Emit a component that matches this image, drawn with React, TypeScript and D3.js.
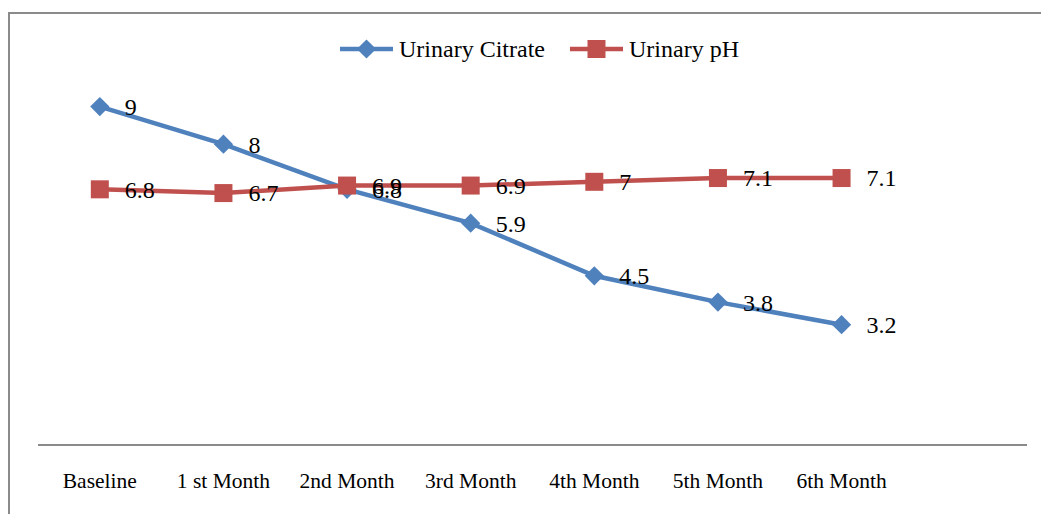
import { useRef, useEffect } from "react";
import * as d3 from "d3";

const categories = ["Baseline", "1 st Month", "2nd Month", "3rd Month", "4th Month", "5th Month", "6th Month"];
const citrate = [9, 8, 6.8, 5.9, 4.5, 3.8, 3.2];
const ph = [6.8, 6.7, 6.9, 6.9, 7, 7.1, 7.1];

const seriesNames = ["Urinary Citrate", "Urinary pH"];
const seriesColors = ["#4F81BD", "#C0504D"];

const FONT = "'Liberation Serif', 'Times New Roman', serif";

export default function App() {
  const svgRef = useRef<SVGSVGElement>(null);

  useEffect(() => {
    if (!svgRef.current) return;
    const svg = d3.select(svgRef.current);
    svg.selectAll("*").remove();

    const width = 1041;
    const height = 514;

    // chart frame (cut off at right / bottom)
    svg
      .append("rect")
      .attr("x", 9)
      .attr("y", 13)
      .attr("width", width + 20)
      .attr("height", height + 20)
      .attr("fill", "#fff")
      .attr("stroke", "#8a8a8a")
      .attr("stroke-width", 2);

    // 8 slots, last one empty
    const x = d3
      .scaleBand<number>()
      .domain(d3.range(8))
      .range([38, 1027]);
    const cx = (i: number) => (x(i) ?? 0) + x.bandwidth() / 2;

    const y = d3.scaleLinear().domain([0, 10]).range([445, 69]);

    // axis line
    svg
      .append("line")
      .attr("x1", 38)
      .attr("x2", 1027)
      .attr("y1", y(0))
      .attr("y2", y(0))
      .attr("stroke", "#8a8a8a")
      .attr("stroke-width", 2);

    svg
      .append("g")
      .selectAll("text")
      .data(categories)
      .enter()
      .append("text")
      .attr("x", (_d, i) => cx(i))
      .attr("y", 488)
      .attr("text-anchor", "middle")
      .attr("font-family", FONT)
      .attr("font-size", 21.5)
      .attr("fill", "#000")
      .text((d) => d);

    const line = d3
      .line<number>()
      .x((_d, i) => cx(i))
      .y((d) => y(d));

    const drawMarker = (
      g: d3.Selection<SVGGElement, unknown, null, undefined>,
      kind: number,
      px: number,
      py: number
    ) => {
      if (kind === 0) {
        g.append("path")
          .attr("d", d3.symbol().type(d3.symbolSquare).size(185)())
          .attr("transform", `translate(${px},${py}) rotate(45)`)
          .attr("fill", seriesColors[0]);
      } else {
        g.append("rect")
          .attr("x", px - 9)
          .attr("y", py - 9)
          .attr("width", 18)
          .attr("height", 18)
          .attr("fill", seriesColors[1]);
      }
    };

    [citrate, ph].forEach((vals, k) => {
      const g = svg.append("g");
      g.append("path")
        .datum(vals)
        .attr("d", line)
        .attr("fill", "none")
        .attr("stroke", seriesColors[k])
        .attr("stroke-width", 4.5);
      vals.forEach((v, i) => drawMarker(g, k, cx(i), y(v)));
    });

    // data labels
    [citrate, ph].forEach((vals) => {
      svg
        .append("g")
        .selectAll("text")
        .data(vals)
        .enter()
        .append("text")
        .attr("x", (_d, i) => cx(i) + 25)
        .attr("y", (d) => y(d))
        .attr("dy", "0.35em")
        .attr("font-family", FONT)
        .attr("font-size", 24)
        .attr("fill", "#000")
        .text((d) => d);
    });

    // legend
    const legendX = [340, 570];
    seriesNames.forEach((name, k) => {
      const g = svg.append("g");
      const lx = legendX[k];
      g.append("line")
        .attr("x1", lx)
        .attr("x2", lx + 53)
        .attr("y1", 49)
        .attr("y2", 49)
        .attr("stroke", seriesColors[k])
        .attr("stroke-width", 4.5);
      drawMarker(g, k, lx + 26.5, 49);
      g.append("text")
        .attr("x", lx + 59)
        .attr("y", 49)
        .attr("dy", "0.35em")
        .attr("font-family", FONT)
        .attr("font-size", 24)
        .attr("fill", "#000")
        .text(name);
    });
  }, []);

  return (
    <svg
      ref={svgRef}
      width={1041}
      height={514}
      style={{ position: "absolute", left: 0, top: 0, display: "block" }}
    />
  );
}
